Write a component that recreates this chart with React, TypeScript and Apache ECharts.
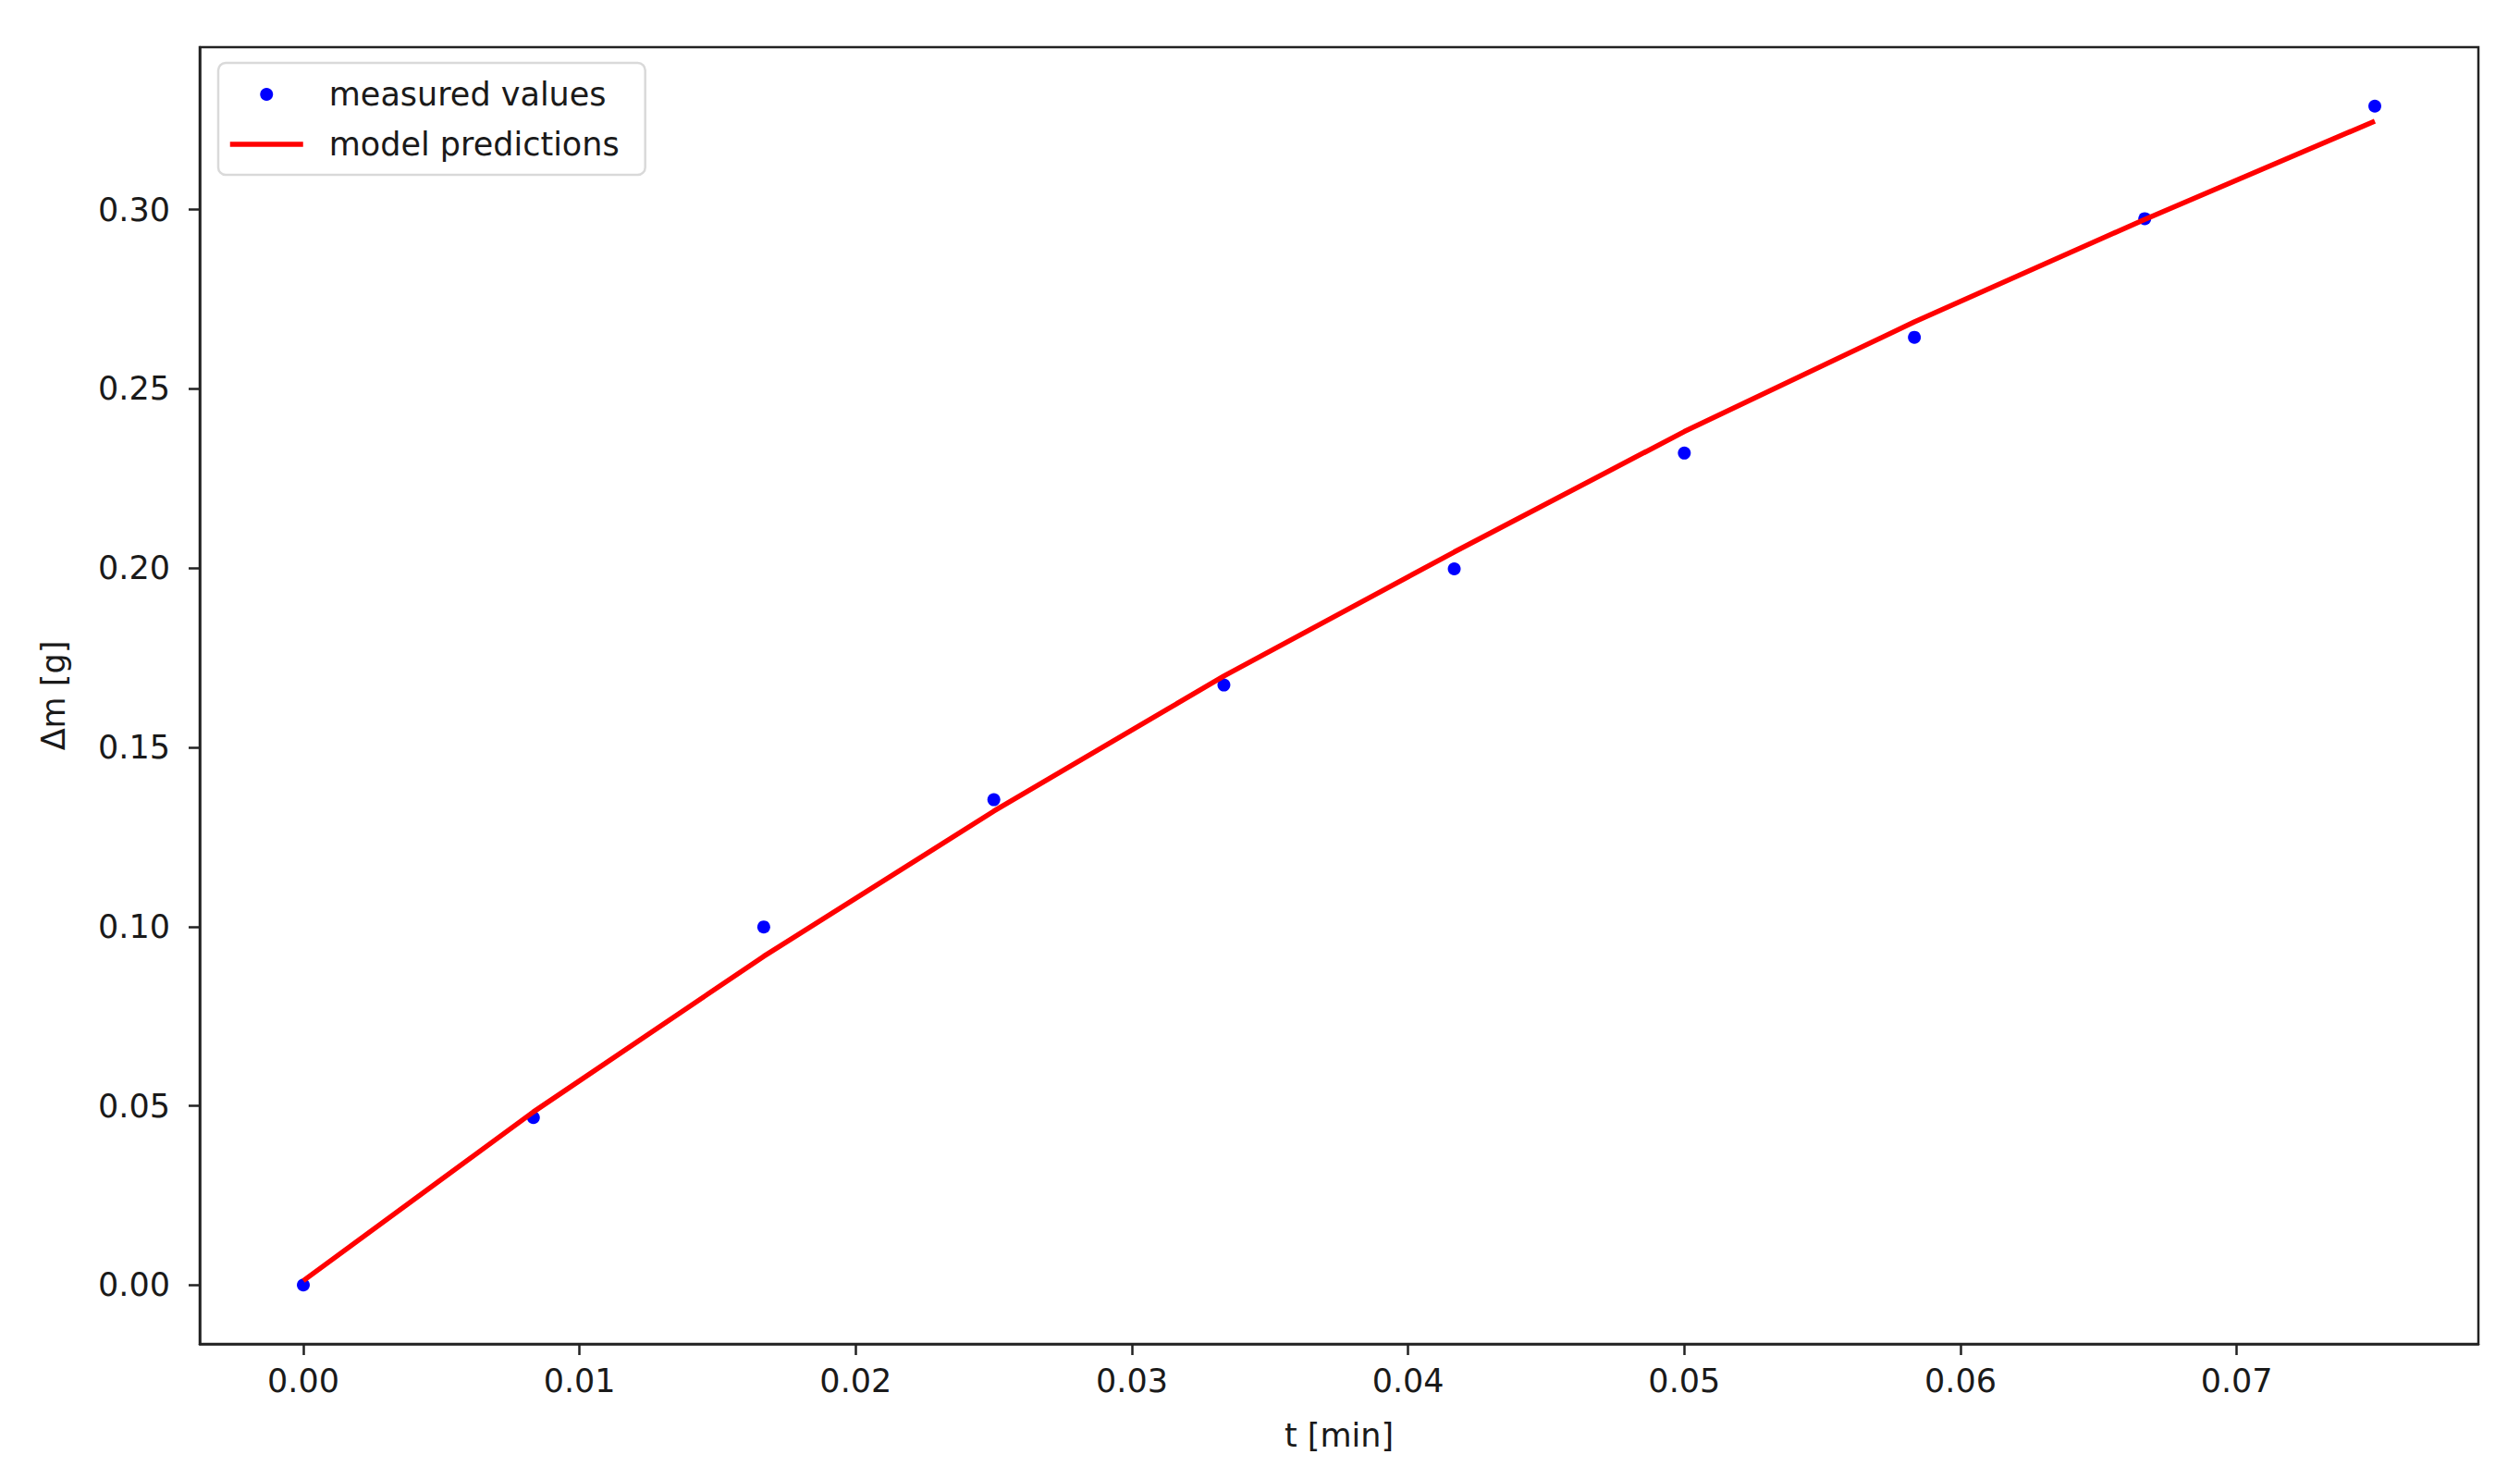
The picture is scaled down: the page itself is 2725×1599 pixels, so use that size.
import React, { useRef, useEffect } from "react";
import * as echarts from "echarts";

// time in minutes (0 .. 4.5 s, every 0.5 s)
const times = [0, 0.00833, 0.01667, 0.025, 0.03333, 0.04167, 0.05, 0.05833, 0.06667, 0.075];
const measured = [0, 0.0467, 0.0999, 0.1354, 0.1674, 0.1998, 0.2321, 0.2644, 0.2975, 0.3289];
const predicted = [0.0012, 0.0483, 0.0917, 0.1322, 0.1699, 0.2045, 0.2381, 0.2687, 0.2973, 0.3247];
const xTicks = [0, 0.01, 0.02, 0.03, 0.04, 0.05, 0.06, 0.07];
const yTicks = [0, 0.05, 0.1, 0.15, 0.2, 0.25, 0.3];

const FONT = "DejaVu Sans";
const TEXT = "#1a1a1a";

// matplotlib style autoscale: 5% margin on each side
const padRange = (vals: number[]) => {
  const lo = Math.min(...vals);
  const hi = Math.max(...vals);
  const m = (hi - lo) * 0.05;
  return [lo - m, hi + m];
};

const App = function () {
  const chart = useRef<HTMLDivElement>(null);

  useEffect(() => {
    if (!chart.current) return;
    const myChart = echarts.init(chart.current, null, { renderer: "svg" });
    const [xMin, xMax] = padRange(times);
    const [yMin, yMax] = padRange([...measured, ...predicted]);

    const option = {
      animation: false,
      backgroundColor: "#fff",
      textStyle: { fontFamily: FONT },
      grid: {
        left: 216,
        right: 45,
        top: 51,
        bottom: 146,
        show: true,
        borderColor: "#222",
        borderWidth: 2.5,
        backgroundColor: "transparent",
      },
      legend: {
        orient: "vertical",
        left: 236,
        top: 68,
        padding: [14, 28, 13, 10],
        itemGap: 14,
        itemWidth: 79,
        itemHeight: 14,
        backgroundColor: "#fff",
        borderColor: "#d9d9d9",
        borderWidth: 2.5,
        borderRadius: 8,
        textStyle: {
          fontFamily: FONT,
          fontSize: 35,
          color: TEXT,
          lineHeight: 40,
          padding: [0, 0, 0, 23],
        },
        data: [
          { name: "measured values", icon: "circle" },
          {
            name: "model predictions",
            lineStyle: { width: 5.5 },
            itemStyle: { opacity: 0 },
          },
        ],
      },
      xAxis: {
        type: "value",
        min: xMin,
        max: xMax,
        name: "t [min]",
        nameLocation: "middle",
        nameGap: 81,
        nameTextStyle: { fontFamily: FONT, fontSize: 35, color: TEXT },
        axisLine: { onZero: false, lineStyle: { color: "#222", width: 2.5 } },
        axisTick: {
          show: true,
          length: 12,
          customValues: xTicks,
          lineStyle: { color: "#222", width: 2.5 },
        },
        axisLabel: {
          customValues: xTicks,
          margin: 22,
          fontFamily: FONT,
          fontSize: 35,
          color: TEXT,
          formatter: (v: number) => v.toFixed(2),
        },
        splitLine: { show: false },
      },
      yAxis: {
        type: "value",
        min: yMin,
        max: yMax,
        name: "Δm [g]",
        nameLocation: "middle",
        nameGap: 141,
        nameRotate: 90,
        nameTextStyle: { fontFamily: FONT, fontSize: 35, color: TEXT },
        axisLine: { onZero: false, lineStyle: { color: "#222", width: 2.5 } },
        axisTick: {
          show: true,
          length: 12,
          customValues: yTicks,
          lineStyle: { color: "#222", width: 2.5 },
        },
        axisLabel: {
          customValues: yTicks,
          margin: 32,
          fontFamily: FONT,
          fontSize: 35,
          color: TEXT,
          formatter: (v: number) => v.toFixed(2),
        },
        splitLine: { show: false },
      },
      series: [
        {
          name: "measured values",
          type: "scatter",
          symbol: "circle",
          symbolSize: 14,
          itemStyle: { color: "#0000ff", opacity: 1 },
          data: times.map((t, i) => [t, measured[i]]),
        },
        {
          name: "model predictions",
          type: "line",
          symbol: "none",
          lineStyle: { color: "#ff0000", width: 5.5 },
          itemStyle: { color: "#ff0000" },
          data: times.map((t, i) => [t, predicted[i]]),
        },
      ],
    };
    myChart.setOption(option);
    return () => {
      myChart.dispose();
    };
  }, []);

  return (
    <div
      ref={chart}
      style={{ position: "fixed", left: 0, top: 0, width: 2725, height: 1599, background: "#fff" }}
    ></div>
  );
};
export default App;
